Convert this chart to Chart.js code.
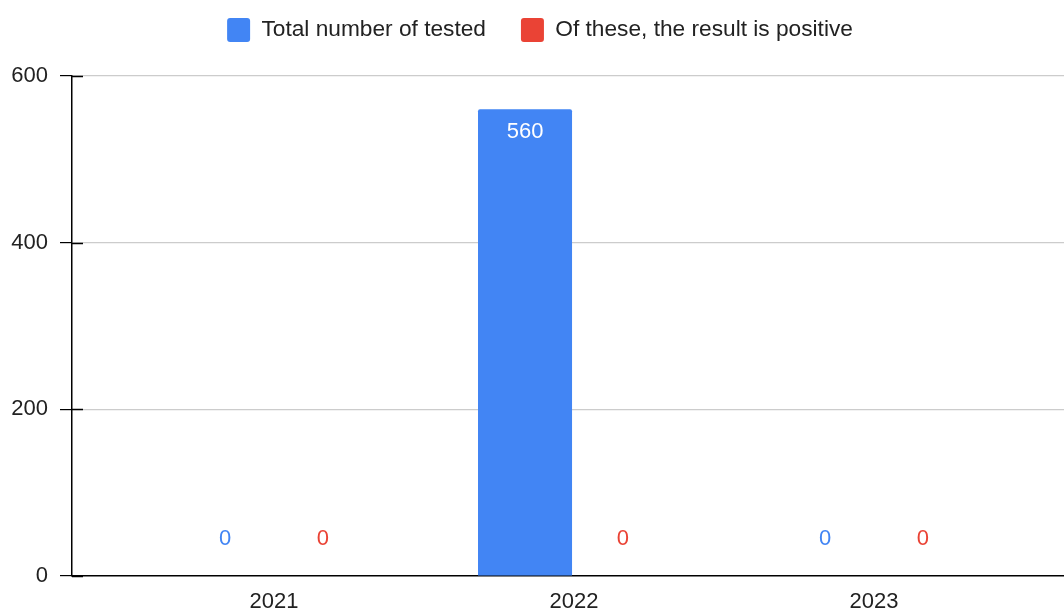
<!DOCTYPE html>
<html>
<head>
<meta charset="utf-8">
<script src="https://cdn.jsdelivr.net/npm/chart.js@4"></script>
<style>
  html, body { margin: 0; padding: 0; background: #fff; }
  #wrap { width: 1064px; height: 610px; }
</style>
</head>
<body>
<div id="wrap"><canvas id="chart" width="1064" height="610"></canvas></div>
<script>
// data
const years = ['2021', '2022', '2023'];
const testedTotal = [0, 560, 0];
const testedPositive = [0, 0, 0];
const yTicks = [0, 200, 400, 600];

const BLUE = '#4285F4';
const RED = '#EA4335';
const FONT = "'Liberation Sans', Arial, sans-serif";

// value labels on the bars
const barLabels = {
    id: 'barLabels',
    afterDatasetsDraw(chart) {
        const { ctx } = chart;
        ctx.save();
        ctx.font = `22px ${FONT}`;
        ctx.textAlign = 'center';
        ctx.textBaseline = 'middle';
        chart.data.datasets.forEach((ds, i) => {
            const meta = chart.getDatasetMeta(i);
            meta.data.forEach((bar, j) => {
                const v = ds.data[j];
                if (v > 0) {
                    ctx.fillStyle = '#ffffff';
                    ctx.fillText(String(v), bar.x, bar.y + 23);
                } else {
                    ctx.fillStyle = ds.backgroundColor;
                    ctx.fillText(String(v), bar.x, bar.base - 37);
                }
            });
        });
        ctx.restore();
    }
};

// short black tick marks continuing into the plot area
const innerTicks = {
    id: 'innerTicks',
    afterDraw(chart) {
        const { ctx, chartArea } = chart;
        const y = chart.scales.y;
        ctx.save();
        ctx.strokeStyle = '#000';
        ctx.lineWidth = 1.5;
        yTicks.forEach(t => {
            const py = Math.round(y.getPixelForValue(t)) + 0.5;
            ctx.beginPath();
            ctx.moveTo(chartArea.left, py);
            ctx.lineTo(chartArea.left + 11, py);
            ctx.stroke();
        });
        ctx.restore();
    }
};

// leave room between the legend and the plot, nudge it right a little
const legendSpace = {
    id: 'legendSpace',
    beforeLayout(chart) {
        const lg = chart.legend;
        if (lg && !lg._wrapped) {
            const fit = lg.fit;
            lg.fit = function () {
                fit.call(this);
                this.height = 93;
            };
            lg._wrapped = true;
        }
    },
    afterLayout(chart) {
        chart.legend.left += 4;
        chart.legend.right += 4;
    }
};

new Chart(document.getElementById('chart'), {
    type: 'bar',
    data: {
        labels: years,
        datasets: [
            {
                label: 'Total number of tested',
                data: testedTotal,
                backgroundColor: BLUE,
                borderRadius: 2,
                borderSkipped: 'bottom',
                categoryPercentage: 0.653,
                barPercentage: 0.96
            },
            {
                label: 'Of these, the result is positive',
                data: testedPositive,
                backgroundColor: RED,
                borderRadius: 2,
                borderSkipped: 'bottom',
                categoryPercentage: 0.653,
                barPercentage: 0.96
            }
        ]
    },
    options: {
        responsive: false,
        animation: false,
        layout: { padding: { top: -17, right: 0, left: 8, bottom: 0 } },
        plugins: {
            legend: {
                position: 'top',
                labels: {
                    font: { size: 22.7, family: FONT },
                    color: '#222',
                    boxWidth: 23,
                    boxHeight: 24,
                    useBorderRadius: true,
                    borderRadius: 3,
                    padding: 35
                }
            },
            tooltip: { enabled: false }
        },
        scales: {
            x: {
                afterBuildTicks(s) {
                    // category centres at 274 / 574 / 874 px
                    s._startValue = -202 / 300;
                    s._valueRange = 992 / 300;
                },
                afterFit(s) { s.height = 34; },
                grid: { display: false, drawTicks: false },
                border: { display: true, color: '#000', width: 1.5 },
                ticks: {
                    color: '#222',
                    font: { size: 22, family: FONT },
                    padding: 13
                }
            },
            y: {
                min: 0,
                max: 600,
                afterBuildTicks(s) { s.ticks = yTicks.map(v => ({ value: v })); },
                afterFit(s) { s.width = 64; },
                grid: {
                    color: ctx => (ctx.tick && ctx.tick.value === 0) ? 'rgba(0,0,0,0)' : '#cccccc',
                    tickColor: '#000',
                    tickLength: 12,
                    lineWidth: 1.2
                },
                border: { display: true, color: '#000', width: 1.5 },
                ticks: {
                    color: '#222',
                    font: { size: 22, family: FONT },
                    padding: 12
                }
            }
        }
    },
    plugins: [barLabels, innerTicks, legendSpace]
});
</script>
</body>
</html>
